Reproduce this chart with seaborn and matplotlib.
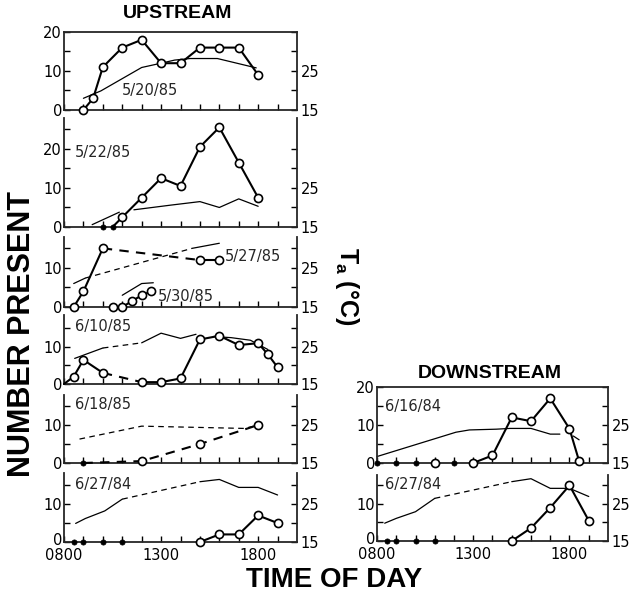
import matplotlib
matplotlib.use("Agg")
import matplotlib.pyplot as plt
import matplotlib.transforms as mtransforms
import seaborn as sns
import pandas as pd

sns.set_style("ticks")
plt.rcParams["font.family"] = ["DejaVu Sans"]
plt.rcParams["mathtext.fontset"] = "custom"
plt.rcParams["mathtext.bf"] = "Liberation Sans:bold"
plt.rcParams["mathtext.rm"] = "Liberation Sans"

# ---------------- data: number of birds present and air temperature ----------
# Upstream 5/20/85
may20_hours = [9, 9.5, 10, 11, 12, 13, 14, 15, 16, 17, 18]
may20_count = [0, 3, 11, 16, 18, 12, 12, 16, 16, 16, 9]
may20_temp_hours = [9, 9.9, 12, 13, 13.7, 14.5, 15.9, 17.9]
may20_temp = [18, 19.9, 25.9, 27, 27.8, 28.2, 28.2, 25.8]

# Upstream 5/22/85
may22_hours = [10, 10.5, 11, 12, 13, 14, 15, 16, 17, 18]
may22_count = [0, 0, 2.5, 7.5, 12.5, 10.5, 20.5, 25.5, 16.5, 7.5]
may22_temp_hours = [9.45, 10.85, 11.6, 13.5, 15, 16, 17, 18]
may22_temp = [15.6, 18.8, 19.4, 20.6, 21.5, 20, 22.2, 20.3]

# Upstream 5/27/85
may27_hours = [8.5, 9, 10, 15, 16]
may27_count = [0, 4, 15, 12, 12]
may27_temp_hours = [8.5, 9.1, 14.6, 16]
may27_temp = [21, 22.4, 30, 31.3]

# Upstream 5/30/85
may30_hours = [10.5, 11, 11.5, 12, 12.5]
may30_count = [0, 0, 1.5, 3, 4]
may30_temp_hours = [11, 12, 12.6]
may30_temp = [18, 21, 21.2]

# Upstream 6/10/85
jun10_hours = [8, 8.5, 9, 10, 12, 13, 14, 15, 16, 17, 18, 18.5, 19]
jun10_count = [0, 2, 6.5, 3, 0.5, 0.5, 1.5, 12, 13, 10.5, 11, 8, 4.5]
jun10_temp_hours = [8.55, 10, 12, 13, 14, 14.8, 15.7, 16.6, 17.6, 18.5]
jun10_temp = [21.9, 24.7, 26.1, 28.7, 27.3, 28.4, 27.8, 27.5, 26.8, 24.3]

# Upstream 6/18/85
jun18_hours = [9, 12, 15, 18]
jun18_count = [0, 0.5, 5, 10]
jun18_temp_hours = [8.8, 12, 17.3, 18]
jun18_temp = [21.3, 24.7, 24.1, 25]

# Upstream 6/27/84
jun27u_hours = [8.5, 9, 10, 11, 15, 16, 17, 18, 19]
jun27u_count = [0, 0, 0, 0, 0, 2, 2, 7, 5]
jun27u_temp_hours = [8.6, 9.1, 10.1, 11, 15, 16, 17, 18, 19]
jun27u_temp = [19.9, 21.2, 23.2, 26.3, 30.9, 31.5, 29.4, 29.4, 27.4]

# Downstream 6/16/84
jun16d_hours = [8, 9, 10, 11, 12, 13, 14, 15, 16, 17, 18, 18.5]
jun16d_count = [0, 0, 0, 0, 0, 0, 2, 12, 11, 17, 9, 0.5]
jun16d_temp_hours = [8, 12.1, 12.8, 14.2, 14.9, 16, 17, 17.5, 18.2, 18.5]
jun16d_temp = [16.7, 23.1, 23.7, 23.9, 24.1, 24.1, 22.6, 22.6, 22.1, 21.1]

# Downstream 6/27/84
jun27d_hours = [8.5, 9, 10, 11, 15, 16, 17, 18, 19]
jun27d_count = [0, 0, 0, 0, 0, 3.5, 9, 15, 5.5]
jun27d_temp_hours = [8.4, 9, 10, 11, 15, 16, 17, 18, 19]
jun27d_temp = [19.8, 21.1, 22.9, 26.5, 31, 31.8, 29.2, 29.2, 27]

# x tick labels
hour_ticks = list(range(8, 20))
hour_labels = {8: "0800", 13: "1300", 18: "1800"}

# ---------------- drawing helpers --------------------------------------------
W, H = 630, 592
DASH = (0, (4.5, 3.5))
fig = plt.figure(figsize=(W / 100, H / 100), dpi=100)


def rect(l, t, r, b):
    return [l / W, 1 - b / H, (r - l) / W, (b - t) / H]


def fx(x):
    return x / W


def fy(y):
    return 1 - y / H


def draw_line(ax, hours, values, links, lw):
    """Join consecutive points; links[j] styles the step j -> j+1
    ('-' solid, '--' dashed, '' no join)."""
    j = 0
    n_links = len(links)
    while j < n_links:
        k = j
        while k + 1 < n_links and links[k + 1] == links[j]:
            k += 1
        style = links[j]
        if style:
            df = pd.DataFrame({"h": hours[j:k + 2], "v": values[j:k + 2]})
            sns.lineplot(data=df, x="h", y="v", ax=ax, color="black",
                         lw=lw, linestyle="-" if style == "-" else DASH,
                         estimator=None, sort=False, errorbar=None,
                         clip_on=False, zorder=3)
        j = k + 1


def draw_counts(ax, hours, values, links, marks):
    draw_line(ax, hours, values, links, 1.5)
    oh = [h for h, m in zip(hours, marks) if m == "o"]
    ov = [v for v, m in zip(values, marks) if m == "o"]
    fh = [h for h, m in zip(hours, marks) if m == "."]
    fv = [v for v, m in zip(values, marks) if m == "."]
    if oh:
        sns.scatterplot(x=oh, y=ov, ax=ax, marker="o", s=34, color="white",
                        edgecolor="black", linewidth=1.2, zorder=5,
                        clip_on=False)
    if fh:
        sns.scatterplot(x=fh, y=fv, ax=ax, marker="o", s=14, color="black",
                        edgecolor="black", linewidth=0.5, zorder=5,
                        clip_on=False)


def make_panel(box, ytop, boxed, show_x):
    ax = fig.add_axes(rect(*box))
    ax.set_xlim(8, 20)
    ax.set_ylim(0, ytop)
    ax.set_xticks(hour_ticks)
    ax.set_xticklabels([hour_labels.get(h, "") if show_x else "" for h in hour_ticks])
    yt = [v for v in (0, 5, 10, 15, 20, 25) if v <= ytop + 0.01]
    ax.set_yticks(yt)
    ax.set_yticklabels([str(v) if v % 10 == 0 else "" for v in yt])
    ax.tick_params(direction="in", length=4, width=1.0, labelsize=10.5,
                   pad=4, colors="black")
    ax.tick_params(axis="y", pad=1.5)
    for s in ("left", "bottom"):
        ax.spines[s].set_linewidth(1.3)
    ax.spines["top"].set_visible(boxed)
    ax.spines["top"].set_linewidth(1.3)
    ax.spines["right"].set_visible(False)
    if show_x:
        # lift the bottom "0" a little so it clears the "0800" beneath it
        lift = mtransforms.ScaledTranslation(0, 3 / 100, fig.dpi_scale_trans)
        zero = ax.get_yticklabels()[0]
        zero.set_transform(zero.get_transform() + lift)

    ax2 = ax.twinx()
    ax2.set_ylim(15, 15 + ytop)
    tt = [v for v in (15, 20, 25, 30, 35) if v <= 15 + ytop + 0.01]
    ax2.set_yticks(tt)
    ax2.set_yticklabels([str(v) if v in (15, 25) else "" for v in tt])
    ax2.tick_params(direction="in", length=4, width=1.0, labelsize=10.5,
                    pad=2.5, colors="black")
    for s in ("left", "bottom", "top"):
        ax2.spines[s].set_visible(False)
    ax2.spines["right"].set_linewidth(1.3)
    # counts drawn above the temperature trace
    ax.set_zorder(ax2.get_zorder() + 1)
    ax.patch.set_visible(False)
    return ax, ax2


def finish(ax, ax2):
    for a in (ax, ax2):
        a.set_xlabel("")
        a.set_ylabel("")


# ---------------- upstream column --------------------------------------------
L, R = 64, 297

ax, ax2 = make_panel((L, 32, R, 110), 20, True, False)
draw_line(ax2, may20_temp_hours, may20_temp, ["-"] * 7, 0.9)
draw_counts(ax, may20_hours, may20_count, ["-"] * 10, ["o"] * 11)
finish(ax, ax2)
fig.text(fx(122), fy(91), "5/20/85", fontsize=10.5, va="center")

ax, ax2 = make_panel((L, 118, R, 227), 27.9, False, False)
draw_line(ax2, may22_temp_hours, may22_temp, ["-", "", "-", "-", "-", "-", "-"], 0.9)
draw_counts(ax, may22_hours, may22_count, ["", "-", "-", "-", "-", "-", "-", "-", "-"],
            [".", "."] + ["o"] * 8)
finish(ax, ax2)
fig.text(fx(75), fy(153), "5/22/85", fontsize=10.5, va="center")

ax, ax2 = make_panel((L, 237, R, 307), 17.9, False, False)
draw_line(ax2, may27_temp_hours, may27_temp, ["-", "--", "-"], 0.9)
draw_line(ax2, may30_temp_hours, may30_temp, ["-", "-"], 0.9)
draw_counts(ax, may27_hours, may27_count, ["-", "-", "--", "-"], ["o"] * 5)
draw_counts(ax, may30_hours, may30_count, ["-"] * 4, ["o"] * 5)
finish(ax, ax2)
fig.text(fx(225), fy(256), "5/27/85", fontsize=10.5, va="center")
fig.text(fx(158), fy(296), "5/30/85", fontsize=10.5, va="center")

ax, ax2 = make_panel((L, 315, R, 384), 18.6, False, False)
draw_line(ax2, jun10_temp_hours, jun10_temp,
          ["-", "--", "-", "-", "-", "", "-", "-", "-"], 0.9)
draw_counts(ax, jun10_hours, jun10_count,
            ["-", "-", "-", "--"] + ["-"] * 8, [""] + ["o"] * 12)
finish(ax, ax2)
fig.text(fx(75), fy(326), "6/10/85", fontsize=10.5, va="center")

ax, ax2 = make_panel((L, 395, R, 463), 17.9, False, False)
draw_line(ax2, jun18_temp_hours, jun18_temp, ["--"] * 3, 0.9)
draw_counts(ax, jun18_hours, jun18_count, ["--"] * 3, [".", "o", "o", "o"])
finish(ax, ax2)
fig.text(fx(75), fy(405), "6/18/85", fontsize=10.5, va="center")

ax, ax2 = make_panel((L, 473, R, 542), 18.2, False, True)
draw_line(ax2, jun27u_temp_hours, jun27u_temp,
          ["-", "-", "-", "--", "-", "-", "-", "-"], 0.9)
draw_counts(ax, jun27u_hours, jun27u_count,
            ["", "", "", "", "-", "-", "-", "-"], ["."] * 4 + ["o"] * 5)
finish(ax, ax2)
fig.text(fx(75), fy(484), "6/27/84", fontsize=10.5, va="center")

# ---------------- downstream column ------------------------------------------
L2, R2 = 377, 608

ax, ax2 = make_panel((L2, 387, R2, 463), 20, True, False)
draw_line(ax2, jun16d_temp_hours, jun16d_temp, ["-"] * 7 + ["", "-"], 0.9)
draw_counts(ax, jun16d_hours, jun16d_count,
            [""] * 5 + ["-"] * 6,
            [".", ".", ".", "o", ".", "o", "o", "o", "o", "o", "o", "o"])
finish(ax, ax2)
fig.text(fx(385), fy(406), "6/16/84", fontsize=10.5, va="center")

ax, ax2 = make_panel((L2, 475, R2, 541), 17.8, False, True)
draw_line(ax2, jun27d_temp_hours, jun27d_temp,
          ["-", "-", "-", "--", "-", "-", "-", "-"], 0.9)
draw_counts(ax, jun27d_hours, jun27d_count,
            ["", "", "", "", "-", "-", "-", "-"], ["."] * 4 + ["o"] * 5)
finish(ax, ax2)
fig.text(fx(385), fy(484), "6/27/84", fontsize=10.5, va="center")

# ---------------- titles and axis labels -------------------------------------
bold = dict(family="Liberation Sans", fontweight="bold", color="black")
fig.text(fx(178), fy(13), "UPSTREAM", fontsize=14, ha="center", va="center", **bold)
fig.text(fx(490), fy(373), "DOWNSTREAM", fontsize=14, ha="center", va="center", **bold)
fig.text(fx(22), fy(334), "NUMBER PRESENT", fontsize=22, rotation=90,
         ha="center", va="center", **bold)
fig.text(fx(347), fy(286), r"$\mathbf{T_a}$ (°C)", fontsize=18, rotation=-90,
         ha="center", va="center", **bold)
fig.text(fx(334), fy(580), "TIME OF DAY", fontsize=20, ha="center", va="center", **bold)

fig.savefig("out.png", dpi=100, facecolor="white")
